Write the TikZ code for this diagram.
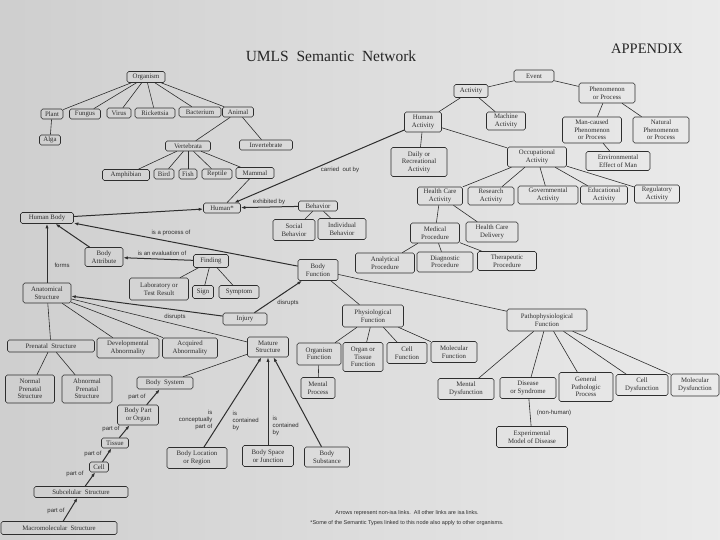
\documentclass[tikz,border=0pt]{standalone}
\usepackage{fontspec}
\setmainfont{Liberation Serif}
\setsansfont{Liberation Sans}
\usetikzlibrary{arrows.meta}
\definecolor{ink}{gray}{0.18}
\tikzset{
  box/.style={draw=ink, rounded corners=1.8pt, line width=0.6pt, align=center, inner sep=0.8pt,
    font=\fontsize{6.8}{7.4}\selectfont, text=ink},
  isa/.style={draw=ink, line width=0.6pt},
  rel/.style={draw=ink, line width=1pt, -{Latex[length=4.5pt,width=3.2pt]}},
  lbl/.style={font=\sffamily\fontsize{6}{6.9}\selectfont, text=ink, inner sep=0.5pt},
}
\newcommand{\bx}[6]{\node[box, minimum width=#4pt, minimum height=#5pt] (#1) at (#2,#3) {#6};}
\begin{document}
\begin{tikzpicture}[x=1pt,y=-1pt]
\useasboundingbox (0,0) rectangle (720,540);
\shade[left color=black!19, right color=black!8] (0,0) rectangle (720,540);
% title
\node[font=\fontsize{15.5}{17}\selectfont, text=black!85] (title) at (331,56) {UMLS\ \ Semantic\ \ Network};
\node[font=\fontsize{14.5}{16}\selectfont, text=black!85] (appendix) at (647,49) {APPENDIX};
% organisms
\bx{organism}{146}{77}{38}{11}{Organism}
\bx{plant}{52}{114}{22}{10}{Plant}
\bx{fungus}{85}{114}{31}{10}{Fungus}
\bx{virus}{119}{113}{24}{10}{Virus}
\bx{rickettsia}{155}{113}{40}{10}{Rickettsia}
\bx{bacterium}{200}{112}{42}{10}{Bacterium}
\bx{animal}{238}{112}{31}{10}{Animal}
\bx{alga}{50}{140}{21}{10}{Alga}
\bx{vertebrata}{188}{146}{45}{10}{Vertebrata}
\bx{invertebrate}{266}{145}{53}{10}{Invertebrate}
\bx{amphibian}{126}{175}{47}{11}{Amphibian}
\bx{bird}{164}{174}{20}{10}{Bird}
\bx{fish}{188}{174}{18}{10}{Fish}
\bx{reptile}{217}{174}{30}{10}{Reptile}
\bx{mammal}{255}{173}{38}{11}{Mammal}
% events
\bx{event}{534}{76}{40}{12}{Event}
\bx{activity}{471}{91}{34}{13}{Activity}
\bx{phenom}{607}{93}{56}{20}{Phenomenon\\or Process}
\bx{humact}{423}{122}{37}{20}{Human\\Activity}
\bx{machact}{506}{121}{39}{18}{Machine\\Activity}
\bx{mancaused}{592}{130}{59}{26}{Man-caused\\Phenomenon\\or Process}
\bx{natural}{661}{130}{56}{26}{Natural\\Phenomenon\\or Process}
\bx{daily}{419}{162}{56}{29}{Daily or\\Recreational\\Activity}
\bx{occup}{537}{157}{59}{20}{Occupational\\Activity}
\bx{envir}{618}{161}{64}{19}{Environmental\\Effect of Man}
\bx{healthcare}{440}{196}{45}{18}{Health Care\\Activity}
\bx{research}{491}{196}{46}{18}{Research\\Activity}
\bx{govern}{548}{195}{60}{18}{Governmental\\Activity}
\bx{educ}{604}{195}{47}{18}{Educational\\Activity}
\bx{regul}{657}{194}{45}{18}{Regulatory\\Activity}
\bx{medproc}{435}{233}{49}{20}{Medical\\Procedure}
\bx{hcdeliv}{492}{232}{52}{20}{Health Care\\Delivery}
\bx{analyt}{385}{263}{59}{20}{Analytical\\Procedure}
\bx{diagn}{445}{262}{56}{20}{Diagnostic\\Procedure}
\bx{therap}{507}{261}{59}{19}{Therapeutic\\Procedure}
% behavior, human
\bx{behavior}{318}{206}{39}{10}{Behavior}
\bx{social}{294}{230}{42}{21}{Social\\Behavior}
\bx{individual}{342}{229}{48}{21}{Individual\\Behavior}
\bx{human}{222}{208}{37}{10}{Human*}
\bx{humanbody}{47}{218}{53}{11}{Human Body}
\bx{bodyattr}{104}{257}{38}{19}{Body\\Attribute}
\bx{finding}{211}{261}{35}{13}{Finding}
\bx{labres}{159}{289}{59}{22}{Laboratory or\\Test Result}
\bx{sign}{203}{292}{21}{13}{Sign}
\bx{symptom}{239}{292}{40}{13}{Symptom}
\bx{anat}{47}{293}{48}{20}{Anatomical\\Structure}
\bx{injury}{245}{319}{44}{12}{Injury}
\bx{bodyfunc}{318}{270}{40}{21}{Body\\Function}
% structures
\bx{prenatal}{51}{346}{87}{12}{Prenatal\ \ Structure}
\bx{devab}{128}{348}{62}{20}{Developmental\\Abnormality}
\bx{acqab}{190}{348}{55}{20}{Acquired\\Abnormality}
\bx{mature}{268}{347}{41}{20}{Mature\\Structure}
\bx{normpre}{30}{389}{49}{28}{Normal\\Prenatal\\Structure}
\bx{abnpre}{87}{389}{50}{28}{Abnormal\\Prenatal\\Structure}
\bx{bodysys}{165}{383}{56}{12}{Body\ \ System}
\bx{bodypart}{138}{415}{41}{20}{Body Part\\or Organ}
\bx{tissue}{115}{443}{27}{10}{Tissue}
\bx{cell}{99}{467}{19}{10}{Cell}
\bx{subcel}{81}{492}{94}{11}{Subcelular\ \ Structure}
\bx{macromol}{59}{528}{116}{13}{Macromolecular\ \ Structure}
\bx{bodyloc}{197}{458}{60}{21}{Body Location\\or Region}
\bx{bodyspace}{268}{456}{51}{21}{Body Space\\or Junction}
\bx{bodysubst}{327}{457}{45}{20}{Body\\Substance}
% functions
\bx{physio}{373}{316}{61}{22}{Physiological\\Function}
\bx{patho}{547}{320}{80}{22}{Pathophysiological\\Function}
\bx{orgfunc}{319}{354}{44}{22}{Organism\\Function}
\bx{orgtiss}{363}{357}{40}{29}{Organ or\\Tissue\\Function}
\bx{cellfunc}{407}{353}{40}{21}{Cell\\Function}
\bx{molfunc}{454}{352}{46}{21}{Molecular\\Function}
\bx{mentproc}{318}{388}{34}{21}{Mental\\Process}
\bx{mentdys}{466}{389}{56}{21}{Mental\\Dysfunction}
\bx{disease}{528}{388}{56}{21}{Disease\\or Syndrome}
\bx{genpath}{586}{387}{54}{29}{General\\Pathologic\\Process}
\bx{celldys}{642}{385}{52}{21}{Cell\\Dysfunction}
\bx{moldys}{695}{385}{48}{22}{Molecular\\Dysfunction}
\bx{expmodel}{532}{437}{71}{21}{Experimental\\Model of Disease}
% isa links
\foreach \c in {plant,fungus,virus,rickettsia,bacterium,animal} \draw[isa] (organism) -- (\c);
\draw[isa] (plant) -- (alga);
\draw[isa] (animal) -- (vertebrata);
\draw[isa] (animal) -- (invertebrate);
\foreach \c in {amphibian,bird,fish,reptile,mammal} \draw[isa] (vertebrata) -- (\c);
\draw[isa] (mammal) -- (human);
\draw[isa] (event) -- (activity);
\draw[isa] (event) -- (phenom);
\draw[isa] (activity) -- (humact);
\draw[isa] (activity) -- (machact);
\draw[isa] (phenom) -- (mancaused);
\draw[isa] (phenom) -- (natural);
\draw[isa] (mancaused) -- (envir);
\draw[isa] (humact) -- (daily);
\draw[isa] (humact) -- (occup);
\foreach \c in {healthcare,research,govern,educ,regul} \draw[isa] (occup) -- (\c);
\draw[isa] (healthcare) -- (medproc);
\draw[isa] (healthcare) -- (hcdeliv);
\foreach \c in {analyt,diagn,therap} \draw[isa] (medproc) -- (\c);
\draw[isa] (behavior) -- (social);
\draw[isa] (behavior) -- (individual);
\foreach \c in {labres,sign,symptom} \draw[isa] (finding) -- (\c);
\draw[isa] (bodyfunc) -- (physio);
\draw[isa] (bodyfunc) -- (patho);
\foreach \c in {orgfunc,orgtiss,cellfunc,molfunc} \draw[isa] (physio) -- (\c);
\draw[isa] (orgfunc) -- (mentproc);
\foreach \c in {mentdys,disease,genpath,celldys,moldys} \draw[isa] (patho) -- (\c);
\draw[isa] (disease) -- (expmodel);
\foreach \c in {prenatal,devab,acqab,mature} \draw[isa] (anat) -- (\c);
\draw[isa] (prenatal) -- (normpre);
\draw[isa] (prenatal) -- (abnpre);
\draw[isa] (mature) -- (bodysys);
% non-isa links
\draw[rel] (humact) -- (human);
\draw[rel] (behavior) -- (human);
\draw[rel] (humanbody) -- (human);
\draw[rel] (bodyattr) -- (humanbody);
\draw[rel] (bodyfunc) -- (humanbody);
\draw[rel] (finding) -- (bodyattr);
\draw[rel] (anat) -- (humanbody);
\draw[rel] (injury) -- (anat);
\draw[rel] (injury) -- (bodyfunc);
\draw[rel] (bodypart) -- (bodysys);
\draw[rel] (tissue) -- (bodypart);
\draw[rel] (cell) -- (tissue);
\draw[rel] (subcel) -- (cell);
\draw[rel] (macromol) -- (subcel);
\draw[rel] (bodyloc) -- (mature);
\draw[rel] (bodyspace) -- (mature);
\draw[rel] (bodysubst) -- (mature);
% labels
\node[lbl] (l1) at (340,170) {carried\ \ out by};
\node[lbl] (l2) at (269,202) {exhibited by};
\node[lbl] (l3) at (171,233) {is a process of};
\node[lbl] (l4) at (162,253) {is an evaluation of};
\node[lbl] (l5) at (62,265) {forms};
\node[lbl] (l6) at (175,317) {disrupts};
\node[lbl] (l7) at (288,303) {disrupts};
\node[lbl] (p1) at (137,397) {part of};
\node[lbl] (p2) at (111,429) {part of};
\node[lbl] (p3) at (93,454) {part of};
\node[lbl] (p4) at (75,474) {part of};
\node[lbl] (p5) at (56,511) {part of};
\node[lbl, align=right, anchor=east] (c1) at (213,420) {is\\conceptually\\part of};
\node[lbl, align=left, anchor=west] (c2) at (232,421) {is\\contained\\by};
\node[lbl, align=left, anchor=west] (c3) at (272,426) {is\\contained\\by};
\node[lbl] (nh) at (554,413) {(non-human)};
\node[lbl, font=\sffamily\fontsize{5.5}{6.4}\selectfont] (f1) at (407,513) {Arrows represent non-isa links.\ \ All other links are isa links.};
\node[lbl, font=\sffamily\fontsize{5.5}{6.4}\selectfont] (f2) at (407,523) {*Some of the Semantic Types linked to this node also apply to other organisms.};
\end{tikzpicture}
\end{document}
